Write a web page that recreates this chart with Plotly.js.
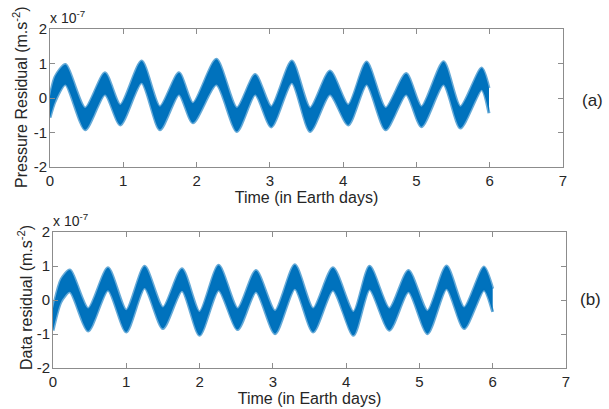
<!DOCTYPE html>
<html>
<head>
<meta charset="utf-8">
<script src="https://cdn.plot.ly/plotly-3.0.1.min.js"></script>
<style>html,body{margin:0;padding:0;background:#fff;}#chart{width:609px;height:409px;}</style>
</head>
<body>
<div id="chart"></div>
<script>
// Envelope of the noisy signal, read at turning points (units of 1e-7 m.s^-2)
const timeA  = [0.00, 0.07, 0.21, 0.48, 0.75, 0.96, 1.25, 1.50, 1.76, 1.95, 2.27, 2.55, 2.80, 3.02, 3.30, 3.55, 3.82, 4.07, 4.32, 4.58, 4.86, 5.07, 5.37, 5.60, 5.89, 5.99];
const upperA = [0.05, 0.62, 0.97, -0.29, 0.73, -0.20, 1.07, -0.25, 0.73, -0.15, 1.12, -0.29, 0.68, -0.25, 1.07, -0.29, 0.78, -0.20, 1.04, -0.29, 0.71, -0.25, 1.05, -0.25, 0.87, 0.29];
const lowerA = [-0.57, -0.10, 0.39, -0.92, 0.10, -0.78, 0.44, -0.92, 0.10, -0.72, 0.39, -0.97, 0.10, -0.84, 0.44, -0.97, 0.10, -0.78, 0.39, -0.92, 0.10, -0.83, 0.39, -0.87, 0.24, -0.44];

const timeB  = [0.00, 0.11, 0.23, 0.48, 0.75, 1.00, 1.25, 1.50, 1.76, 2.00, 2.26, 2.52, 2.77, 3.03, 3.30, 3.55, 3.82, 4.10, 4.32, 4.59, 4.85, 5.11, 5.37, 5.61, 5.88, 6.00];
const upperB = [-0.25, 0.60, 0.88, -0.25, 0.95, -0.30, 0.99, -0.22, 0.92, -0.35, 1.02, -0.25, 0.87, -0.32, 1.04, -0.25, 0.95, -0.35, 0.99, -0.25, 0.87, -0.32, 1.00, -0.22, 0.97, 0.33];
const lowerB = [-0.90, -0.05, 0.24, -0.91, 0.29, -0.94, 0.35, -0.84, 0.27, -1.04, 0.29, -0.87, 0.24, -0.99, 0.33, -0.94, 0.29, -1.04, 0.31, -0.89, 0.24, -0.99, 0.33, -0.84, 0.29, -0.35];

const xTicks = [0, 1, 2, 3, 4, 5, 6, 7];
const yTicks = [-2, -1, 0, 1, 2];
const yTickText = ['-2', '-1', '0', '1', '2'];

const blue = '#0072BD';
const edge = 'rgba(0,114,189,0.6)';
const W = 609, H = 409;
const px = v => v / W, py = v => 1 - v / H;

function band(t, lo, up, xa, ya) {
  return [
    {x: t, y: lo, xaxis: xa, yaxis: ya, type: 'scatter', mode: 'lines',
     line: {color: edge, width: 3, shape: 'spline', smoothing: 0.7}, hoverinfo: 'skip', showlegend: false},
    {x: t, y: up, xaxis: xa, yaxis: ya, type: 'scatter', mode: 'lines', fill: 'tonexty', fillcolor: blue,
     line: {color: edge, width: 3, shape: 'spline', smoothing: 0.7}, hoverinfo: 'skip', showlegend: false}
  ];
}

const data = [...band(timeA, lowerA, upperA, 'x', 'y'), ...band(timeB, lowerB, upperB, 'x2', 'y2')];

const axisCommon = {
  showline: true, mirror: 'ticks', linecolor: '#8c8c8c', linewidth: 1,
  ticks: 'inside', ticklen: 5, tickcolor: '#8c8c8c', showgrid: false, zeroline: false,
  tickfont: {size: 15, color: '#262626'}
};
const font = {family: '"Liberation Sans", Arial, sans-serif', size: 16, color: '#262626'};

const layout = {
  width: W, height: H,
  margin: {l: 0, r: 0, t: 0, b: 0},
  paper_bgcolor: '#fff', plot_bgcolor: '#fff',
  font: font,
  showlegend: false,
  xaxis: Object.assign({}, axisCommon, {domain: [px(50), px(563)], range: [0, 7], tickvals: xTicks, anchor: 'y',
    title: {text: 'Time (in Earth days)', font: {size: 16}, standoff: 2}}),
  yaxis: Object.assign({}, axisCommon, {domain: [py(167), py(29)], range: [-2, 2], tickvals: yTicks, ticktext: yTickText, anchor: 'x',
    ticklabelstandoff: -1}),
  xaxis2: Object.assign({}, axisCommon, {domain: [px(53), px(566)], range: [0, 7], tickvals: xTicks, anchor: 'y2',
    title: {text: 'Time (in Earth days)', font: {size: 16}, standoff: 2}}),
  yaxis2: Object.assign({}, axisCommon, {domain: [py(368), py(232)], range: [-2, 2], tickvals: yTicks, ticktext: yTickText, anchor: 'x2',
    ticklabelstandoff: -1}),
  annotations: [
    {xref: 'paper', yref: 'paper', x: px(20), y: py(97), text: 'Pressure Residual (m.s<sup>-2</sup>)', textangle: -90,
     showarrow: false, xanchor: 'center', yanchor: 'middle', font: {size: 16}},
    {xref: 'paper', yref: 'paper', x: px(25), y: py(298), text: 'Data residual (m.s<sup>-2</sup>)', textangle: -90,
     showarrow: false, xanchor: 'center', yanchor: 'middle', font: {size: 16}},
    {xref: 'paper', yref: 'paper', x: px(48), y: py(28), text: 'x 10<sup>-7</sup>', showarrow: false,
     xanchor: 'left', yanchor: 'bottom', font: {size: 14}},
    {xref: 'paper', yref: 'paper', x: px(51), y: py(231), text: 'x 10<sup>-7</sup>', showarrow: false,
     xanchor: 'left', yanchor: 'bottom', font: {size: 14}},
    {xref: 'paper', yref: 'paper', x: px(592), y: py(100), text: '(a)', showarrow: false,
     xanchor: 'center', yanchor: 'middle', font: {size: 17}},
    {xref: 'paper', yref: 'paper', x: px(590), y: py(299), text: '(b)', showarrow: false,
     xanchor: 'center', yanchor: 'middle', font: {size: 17}}
  ]
};

Plotly.newPlot('chart', data, layout, {staticPlot: true, displayModeBar: false});
</script>
</body>
</html>
